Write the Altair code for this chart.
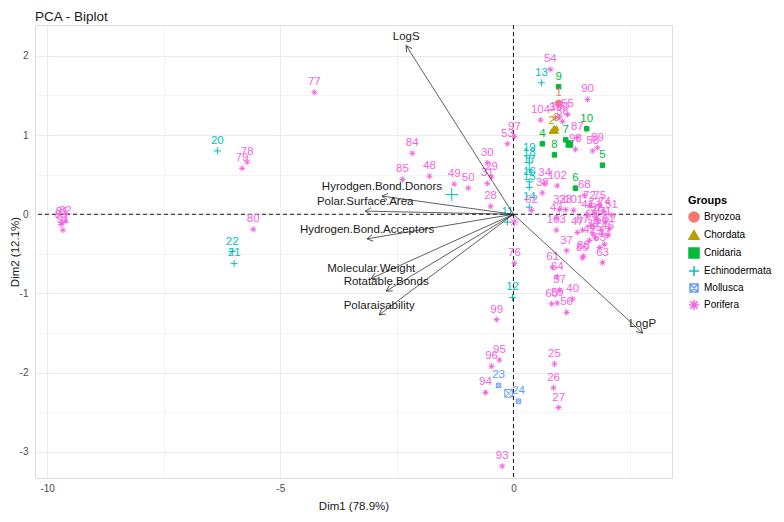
import altair as alt
import pandas as pd

# ---------------- data ----------------
groups = ["Bryozoa", "Chordata", "Cnidaria", "Echinodermata", "Mollusca", "Porifera"]
colors = ["#F8766D", "#B79F00", "#00BA38", "#00BFC4", "#619CFF", "#F564E3"]
group_sizes = [1, 2, 7, 12, 2, 80]  # ids 1..104 in order

dim1 = [
    0.97, 0.82, 0.92, 0.62, 1.91, 1.33, 1.12, 0.88, 0.97, 1.57,          # 1-10
    -0.13, -0.02, 0.60, 0.34, 0.34, 0.34, 0.34, 0.34, 0.34, -6.35,     # 11-20
    -5.99, -6.03, -0.32, 0.11, 0.88, 0.86, 0.97, -0.49, -0.47, -0.56,  # 21-30
    -0.56, 0.99, 1.12, 0.67, 0.90, 1.05, 1.14, 0.62, 1.70, 1.27,       # 31-40
    1.59, 1.63, 0.92, 1.95, 1.76, 2.02, 1.37, -1.80, -1.27, -0.97,     # 41-50
    2.10, 2.06, -0.13, 0.79, 1.16, 1.14, 0.99, 1.70, 0.94, 0.82,       # 51-60
    0.84, 0.39, 1.91, 0.94, 1.85, 1.89, 1.48, 1.52, 1.67, 1.80,        # 61-70
    1.97, 1.63, 1.74, 1.95, 1.85, 0.02, -4.27, -5.71, -5.82, -5.58,    # 71-80
    -9.68, -9.61, -9.70, -2.17, -2.38, 1.48, 1.37, 1.50, 1.80, 1.59,   # 81-90
    -9.66, 1.78, -0.24, -0.60, -0.30, -0.47, 0.02, 1.33, -0.36, 0.99,  # 91-100
    1.29, 0.94, 0.92, 0.58,                                            # 101-104
]
dim2 = [
    1.40, 1.05, 1.09, 0.89, 0.62, 0.33, 0.94, 0.75, 1.61, 1.08,
    -0.10, -1.05, 1.66, 0.09, 0.34, 0.41, 0.56, 0.65, 0.71, 0.80,
    -0.62, -0.47, -2.16, -2.36, -1.89, -2.19, -2.44, 0.10, 0.47, 0.65,
    0.39, 0.06, 0.06, 0.39, 1.22, 1.17, -0.46, 0.27, -0.25, -1.07,
    -0.01, -0.33, -0.05, -0.38, -0.30, -0.27, -0.23, 0.48, 0.38, 0.33,
    -0.01, -0.18, 0.89, 1.83, 1.26, -1.24, -0.96, 0.80, -1.12, -1.13,
    -0.67, 0.05, -0.61, -0.79, -0.42, -0.20, -0.20, 0.24, -0.14, -0.08,
    -0.10, 0.11, 0.01, 0.03, 0.11, -0.62, 1.54, 0.66, 0.58, -0.19,
    -0.10, -0.08, -0.13, 0.77, 0.44, -0.55, 0.97, -0.53, 0.84, 1.45,
    -0.20, -0.05, -3.18, -2.25, -1.84, -1.92, 0.98, 0.82, -1.33, 1.23,
    0.05, 0.36, -0.20, 1.19,
]

var_names = ["LogS", "LogP", "Hyrodgen.Bond.Donors", "Polar.Surface.Area",
             "Hydrogen.Bond.Acceptors", "Molecular.Weight", "Rotatable.Bonds",
             "Polaraisability"]
var_dim1 = [-2.30, 2.77, -2.82, -3.18, -3.14, -3.05, -2.73, -2.88]
var_dim2 = [2.13, -1.50, 0.23, 0.04, -0.31, -0.81, -0.97, -1.27]

x_ticks = [-10, -7.5, -5, -2.5, 0, 2.5]
y_ticks = [-3, -2.5, -2, -1.5, -1, -0.5, 0, 0.5, 1, 1.5, 2]

grp = [g for g, n in zip(groups, group_sizes) for _ in range(n)]
ids = [str(i + 1) for i in range(len(dim1))]
pts = pd.DataFrame({"id": ids, "Dim1": dim1, "Dim2": dim2, "Groups": grp})
vars_df = pd.DataFrame({"name": var_names, "Dim1": var_dim1, "Dim2": var_dim2})
zero_df = pd.DataFrame({"z": [0]})

# ---------------- style ----------------
W, H = 637, 453
XDOM = [-10.26, 3.40]
YDOM = [-3.33, 2.39]
kx = W / (XDOM[1] - XDOM[0])
ky = H / (YDOM[1] - YDOM[0])
FONT = "Liberation Sans"

plus = "M-1,0L1,0M0,-1L0,1"
aster = "M-1,0L1,0M0,-1L0,1M-0.72,-0.72L0.72,0.72M-0.72,0.72L0.72,-0.72"
sqx = "M-0.8,-0.8L0.8,-0.8L0.8,0.8L-0.8,0.8Z M-0.8,-0.8L0.8,0.8M-0.8,0.8L0.8,-0.8"
arrow_head = "M-1,-0.58L0,0L-1,0.58"
shape_range = ["circle", "triangle-up", "square", plus, sqx, aster]
fill_range = colors[:3] + ["transparent"] * 3

pt_size = {"Bryozoa": 25, "Chordata": 28, "Cnidaria": 20, "Echinodermata": 49, "Mollusca": 29, "Porifera": 36}
cen_size = {"Bryozoa": 45, "Chordata": 80, "Cnidaria": 45, "Echinodermata": 169, "Mollusca": 90, "Porifera": 81}


def size_expr(d):
    e = "30"
    for k, v in d.items():
        e = f"datum.Groups === '{k}' ? {v} : ({e})"
    return e


xs = alt.Scale(domain=XDOM, nice=False, zero=False)
ys = alt.Scale(domain=YDOM, nice=False, zero=False)

x_axis = alt.Axis(
    values=x_ticks,
    labelExpr="datum.value % 5 == 0 ? '' + datum.value : ''",
    grid=True, gridColor="#EBEBEB",
    gridWidth={"condition": {"test": "datum.value % 5 == 0", "value": 1.1}, "value": 0.55},
    domain=False, ticks=False, tickSize=0, labelPadding=5,
    labelFontSize=10, labelColor="#4D4D4D", labelFont=FONT,
    title="Dim1 (78.9%)", titleFont=FONT, titleFontSize=11.5, titleFontWeight="normal",
    titleColor="#1A1A1A", titleX=W / 2, titleY=28, titleBaseline="middle",
)
y_axis = alt.Axis(
    values=y_ticks,
    labelExpr="datum.value % 1 == 0 ? '' + datum.value : ''",
    grid=True, gridColor="#EBEBEB",
    gridWidth={"condition": {"test": "datum.value % 1 == 0", "value": 1.1}, "value": 0.55},
    domain=False, ticks=False, tickSize=0, labelPadding=7,
    labelFontSize=10, labelColor="#4D4D4D", labelFont=FONT,
    title="Dim2 (12.1%)", titleFont=FONT, titleFontSize=11.5, titleFontWeight="normal",
    titleColor="#1A1A1A", titleX=-20, titleY=H / 2, titleBaseline="middle", titleAngle=270,
)


def X(f):
    return alt.X(f, scale=xs, axis=x_axis)


def Y(f):
    return alt.Y(f, scale=ys, axis=y_axis)


legend = alt.Legend(title="Groups", orient="none", legendX=653, legendY=170)
fill_enc = alt.Fill("Groups:N", scale=alt.Scale(domain=groups, range=fill_range), legend=legend)
stroke_enc = alt.Stroke("Groups:N", scale=alt.Scale(domain=groups, range=colors), legend=legend)
shape_enc = alt.Shape("Groups:N", scale=alt.Scale(domain=groups, range=shape_range), legend=legend)

vline = alt.Chart(zero_df).mark_rule(color="black", strokeDash=[4, 3], strokeWidth=0.9).encode(x=X("z:Q"))
hline = alt.Chart(zero_df).mark_rule(color="black", strokeDash=[4, 3], strokeWidth=0.9).encode(y=Y("z:Q"))

points = alt.Chart(pts).transform_calculate(sz=size_expr(pt_size)).mark_point(
    filled=True, opacity=1, strokeWidth=1
).encode(
    x=X("Dim1:Q"), y=Y("Dim2:Q"),
    fill=fill_enc, stroke=stroke_enc, shape=shape_enc,
    size=alt.Size("sz:Q", scale=None),
)

centroids = alt.Chart(pts).transform_aggregate(
    Dim1="mean(Dim1)", Dim2="mean(Dim2)", groupby=["Groups"]
).transform_calculate(sz=size_expr(cen_size)).mark_point(
    filled=True, opacity=1, strokeWidth=1
).encode(
    x=X("Dim1:Q"), y=Y("Dim2:Q"),
    fill=fill_enc, stroke=stroke_enc, shape=shape_enc,
    size=alt.Size("sz:Q", scale=None),
)

labels = alt.Chart(pts).mark_text(font=FONT, fontSize=11.5, dy=-7, baseline="alphabetic").encode(
    x=X("Dim1:Q"), y=Y("Dim2:Q"), text="id:N",
    color=alt.Color("Groups:N", scale=alt.Scale(domain=groups, range=colors), legend=None),
)

segs = alt.Chart(vars_df).transform_calculate(o="0").mark_rule(color="#1A1A1A", strokeWidth=0.7).encode(
    x=X("o:Q"), y=Y("o:Q"), x2="Dim1:Q", y2="Dim2:Q",
)

heads = alt.Chart(vars_df).transform_calculate(
    ang=f"(atan2(-datum.Dim2 * {ky}, datum.Dim1 * {kx}) * 180 / PI + 360) % 360"
).mark_point(shape=arrow_head, filled=False, size=130, strokeWidth=0.7, color="#1A1A1A", opacity=1).encode(
    x=X("Dim1:Q"), y=Y("Dim2:Q"), angle=alt.Angle("ang:Q", scale=None),
)

var_labels = alt.Chart(vars_df).mark_text(
    font=FONT, fontSize=11.5, dy=-6, baseline="alphabetic", color="#1A1A1A"
).encode(x=X("Dim1:Q"), y=Y("Dim2:Q"), text="name:N")

chart = alt.layer(
    vline, hline, points, centroids, labels, segs, heads, var_labels
).properties(
    width=W, height=H,
    autosize=alt.AutoSizeParams(type="none"),
    padding={"left": 27, "top": 17, "right": 104, "bottom": 36},
    title=alt.TitleParams("PCA - Biplot", anchor="start", frame="group", fontSize=13.5,
                          font=FONT, fontWeight="normal", color="#1A1A1A", offset=1),
).configure_view(stroke=None).configure_legend(
    titleFont=FONT, titleFontSize=13, titleFontWeight="normal", titleColor="#1A1A1A",
    labelFont=FONT, labelFontSize=11, labelColor="#1A1A1A",
    symbolSize=55, symbolStrokeWidth=1, rowPadding=7.5, titlePadding=12, labelOffset=14,
).configure(background="white")

chart.save("out.html", embed_options={"renderer": "svg", "actions": False})
